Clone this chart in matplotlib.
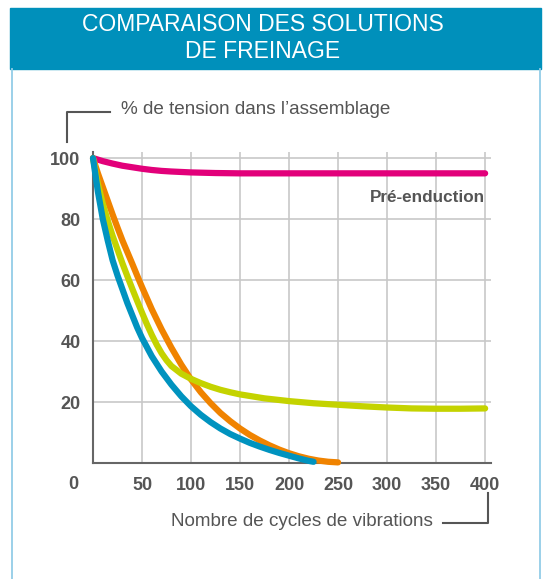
import matplotlib
matplotlib.use("Agg")
import matplotlib.pyplot as plt
from matplotlib.lines import Line2D
from matplotlib.patches import Rectangle

plt.rcParams['font.family'] = ['Liberation Sans', 'DejaVu Sans']

# values
x_magenta = [0, 5, 10, 20, 30, 40, 50, 60, 70, 80, 100, 125, 150, 200, 300, 400]
y_magenta = [100, 99.5, 99, 98.2, 97.5, 97, 96.5, 96.1, 95.8, 95.6, 95.3, 95.1, 95, 95, 95, 95]

x_orange = [0, 5, 10, 15, 20, 25, 30, 35, 40, 45, 50, 60, 70, 80, 90, 100, 110, 120, 130,
            140, 150, 160, 170, 180, 190, 200, 210, 220, 230, 240, 250]
y_orange = [100, 95, 90.5, 86, 81.5, 77.2, 73, 69.2, 65.4, 61.5, 57.7, 50.4, 43.8, 37.8, 32.3,
            27.4, 23.2, 19.6, 16.4, 13.7, 11.3, 9.2, 7.4, 5.8, 4.4, 3.2, 2.2, 1.4, 0.8, 0.4, 0.2]

x_yellow = [0, 5, 10, 15, 20, 25, 30, 35, 40, 45, 50, 55, 60, 65, 70, 75, 80, 90, 100, 110,
            120, 130, 140, 150, 175, 200, 225, 250, 275, 300, 325, 350, 375, 400]
y_yellow = [100, 91.5, 85, 79.5, 74.5, 70, 65.5, 61.3, 57.2, 53.2, 49.3, 45.5, 42, 38.8, 36,
            33.7, 31.8, 29.3, 27.6, 26.2, 25, 24, 23.2, 22.5, 21.2, 20.3, 19.6, 19.1, 18.6,
            18.2, 17.9, 17.8, 17.8, 17.9]

x_blue = [0, 5, 10, 15, 20, 25, 30, 35, 40, 45, 50, 60, 70, 80, 90, 100, 110, 120, 130, 140,
          150, 160, 170, 180, 190, 200, 210, 220, 225]
y_blue = [100, 89, 80, 73, 66.5, 61.5, 57, 52.5, 48.5, 44.5, 41, 35, 30, 25.7, 21.9, 18.6,
          15.8, 13.4, 11.3, 9.5, 8, 6.6, 5.4, 4.3, 3.3, 2.4, 1.5, 0.7, 0.4]

x_ticks = [50, 100, 150, 200, 250, 300, 350, 400]
y_ticks = [20, 40, 60, 80, 100]

TEXT = '#555555'
W, H = 549, 579


def fx(px):
    return px / W


def fy(py):
    return 1 - py / H


fig = plt.figure(figsize=(5.49, 5.79), dpi=100)

# header band + light side borders
fig.add_artist(Rectangle((fx(10), fy(69)), fx(531), 61 / H, color='#0090bb',
                         transform=fig.transFigure))
fig.text(fx(263), fy(38), 'COMPARAISON DES SOLUTIONS\nDE FREINAGE', color='white',
         fontsize=16.5, ha='center', va='center', linespacing=1.2)
for bx in (11.5, 540):
    fig.add_artist(Line2D([fx(bx), fx(bx)], [fy(69), 0], color='#93cde7', lw=1.3))

ax = fig.add_axes([93 / W, 116 / H, 398 / W, 311 / H])
ax.set_xlim(0, 406)
ax.set_ylim(0, 102)

style = dict(lw=4.5, solid_capstyle='round', solid_joinstyle='round', clip_on=False)
ax.plot(x_magenta, y_magenta, color='#e2007a', zorder=3, **style)
ax.plot(x_orange, y_orange, color='#f08300', zorder=4, **style)
ax.plot(x_yellow, y_yellow, color='#c4d300', zorder=5, **style)
ax.plot(x_blue, y_blue, color='#0093bf', zorder=6, **style)

ax.text(400, 87, 'Pré-enduction', ha='right', va='center', fontsize=12.3,
        fontweight='bold', color=TEXT)

ax.set_xticks(x_ticks)
ax.set_yticks(y_ticks)
ax.tick_params(length=0, labelsize=13, colors=TEXT)
ax.tick_params(axis='x', pad=10)
ax.tick_params(axis='y', pad=9)
for lab in ax.get_xticklabels() + ax.get_yticklabels():
    lab.set_fontweight('bold')
ax.text(-20.5, -7, '0', ha='center', va='center', fontsize=13, fontweight='bold',
        color=TEXT, clip_on=False)

ax.grid(True, color='#c8c8c8', lw=1.2)
ax.set_axisbelow(True)
for s in ('top', 'right'):
    ax.spines[s].set_visible(False)
for s in ('left', 'bottom'):
    ax.spines[s].set_color('#666666')
    ax.spines[s].set_linewidth(1.5)

# axis titles with their bracket lines
fig.text(fx(121), fy(110), '% de tension dans l\u2019assemblage', fontsize=13.6,
         color=TEXT, ha='left', va='center')
fig.add_artist(Line2D([fx(67), fx(67), fx(110)], [fy(142), fy(112), fy(112)],
                      color=TEXT, lw=1.5))
fig.text(fx(433), fy(522), 'Nombre de cycles de vibrations', fontsize=13.6,
         color=TEXT, ha='right', va='center')
fig.add_artist(Line2D([fx(443), fx(488), fx(488)], [fy(523), fy(523), fy(493)],
                      color=TEXT, lw=1.5))

fig.savefig('out.png', dpi=100)
